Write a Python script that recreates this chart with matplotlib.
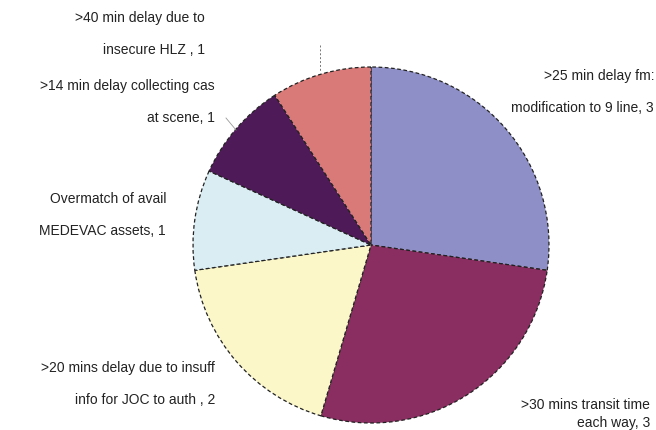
import matplotlib
matplotlib.use("Agg")
import matplotlib.pyplot as plt

plt.rcParams['font.family'] = ['Liberation Sans', 'DejaVu Sans']

# data (clockwise from 12 o'clock)
labels = [">25 min delay fm:\nmodification to 9 line, 3",
          ">30 mins transit time\neach way, 3",
          ">20 mins delay due to insuff\ninfo for JOC to auth , 2",
          "Overmatch of avail\nMEDEVAC assets, 1",
          ">14 min delay collecting cas\nat scene, 1",
          ">40 min delay due to\ninsecure HLZ , 1"]
values = [3, 3, 2, 1, 1, 1]
colors = ["#8e8fc6", "#8a2d60", "#fbf7c8", "#d9edf3", "#4e1a58", "#d97a78"]

# label anchor (right edge x, centre y, line spacing) in pixels from top-left
label_pos = [(654, 92, 2.6), (650, 414, 1.45), (215, 384, 2.6),
             (166, 215, 2.6), (215, 102, 2.6), (205, 34, 2.6)]

W, H = 656, 430
fig = plt.figure(figsize=(W / 100, H / 100), dpi=100)

# square axes holding the pie: centre (371, 245), radius 178 px
cx, cy, r = 371, 245, 178
ax = fig.add_axes([(cx - r) / W, (H - cy - r) / H, 2 * r / W, 2 * r / H])
wedges, _ = ax.pie(values, colors=colors, startangle=90, counterclock=False,
                   radius=1.0,
                   wedgeprops=dict(edgecolor="#222222", linewidth=0.9, linestyle=(0, (3, 2))))
ax.set_xlim(-1, 1)
ax.set_ylim(-1, 1)
ax.axis('off')

for txt, (x, y, ls) in zip(labels, label_pos):
    fig.text(x / W, 1 - y / H, txt, ha='right', va='center', multialignment='right',
             fontsize=10, linespacing=ls, color="#222222")

# leader lines for the two small top slices
fig.add_artist(plt.Line2D([320 / W, 320 / W], [1 - 45 / H, 1 - 72 / H],
                          color="#777777", lw=0.7, linestyle=(0, (2, 2))))
fig.add_artist(plt.Line2D([226 / W, 236 / W], [1 - 118 / H, 1 - 130 / H],
                          color="#999999", lw=0.6))

fig.savefig("out.png", dpi=100)
